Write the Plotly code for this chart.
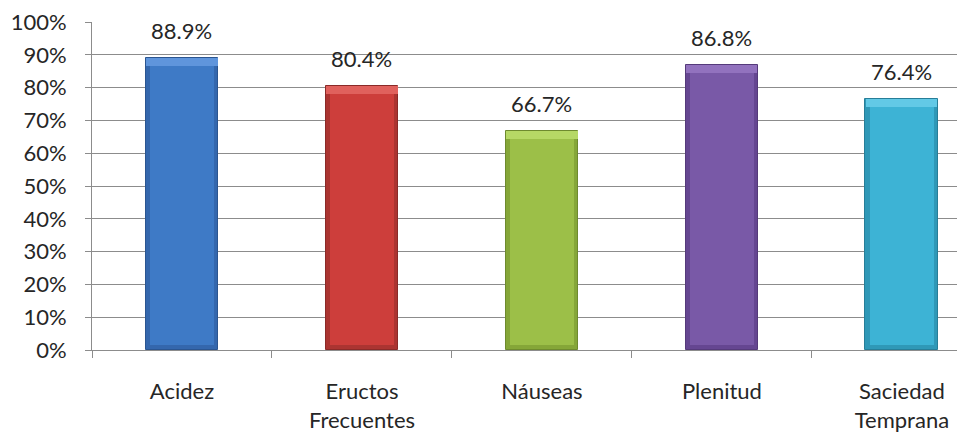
import plotly.graph_objects as go

# Symptom frequencies
categories = ["Acidez", "Eructos<br>Frecuentes", "Náuseas", "Plenitud", "Saciedad<br>Temprana"]
values = [88.9, 80.4, 66.7, 86.8, 76.4]
value_labels = ["88.9%", "80.4%", "66.7%", "86.8%", "76.4%"]
y_ticks = [0, 10, 20, 30, 40, 50, 60, 70, 80, 90, 100]
y_tick_labels = ["0%", "10%", "20%", "30%", "40%", "50%", "60%", "70%", "80%", "90%", "100%"]

# Per-bar palette: face, top highlight, side shade, outline
face = ["#3E7AC6", "#CD3E3B", "#9CBF48", "#7959A7", "#3DB3D5"]
highlight = ["#5F95DC", "#E0615D", "#B6D865", "#9272BE", "#62C9E6"]
side = ["#3467AD", "#AB3431", "#85A638", "#654691", "#2F98B7"]
outline = ["#2B5590", "#8A2A28", "#6E8A2E", "#553A7A", "#277E98"]

FONT = "Lato"
BAR_W = 0.405
INNER_W = 0.36
TOP_STRIP = 2.4
BOTTOM_STRIP = 1.5

fig = go.Figure()

# Body of each bar (side shade with outline)
fig.add_trace(go.Bar(
    x=categories, y=values, width=BAR_W,
    marker=dict(color=side, line=dict(color=outline, width=1)),
    hoverinfo="skip", showlegend=False,
))
# Lighter bevel strip at the top
fig.add_trace(go.Bar(
    x=categories, y=[TOP_STRIP] * len(values), base=[v - TOP_STRIP for v in values],
    width=BAR_W - 0.01,
    marker=dict(color=highlight, line=dict(width=0)),
    hoverinfo="skip", showlegend=False,
))
# Flat front face
fig.add_trace(go.Bar(
    x=categories, y=[v - TOP_STRIP - BOTTOM_STRIP for v in values], base=[BOTTOM_STRIP] * len(values),
    width=INNER_W,
    marker=dict(color=face, line=dict(width=0)),
    hoverinfo="skip", showlegend=False,
))

# Value labels above the bars
for c, v, t in zip(categories, values, value_labels):
    fig.add_annotation(
        x=c, y=v, text=t, showarrow=False, yanchor="bottom", yshift=12,
        font=dict(family=FONT, size=22, color="#262626"),
    )

fig.update_layout(
    width=957, height=435,
    margin=dict(l=92, r=0, t=22, b=85),
    paper_bgcolor="white", plot_bgcolor="white",
    barmode="overlay", bargap=0,
    font=dict(family=FONT, size=22, color="#262626"),
    showlegend=False,
)
fig.update_xaxes(
    type="category", range=[-0.5, 4.306],
    tickson="boundaries", ticks="outside", ticklen=7, tickcolor="#8c8c8c",
    showline=True, linecolor="#8c8c8c", linewidth=1,
    showgrid=False, ticklabelstandoff=22,
    tickfont=dict(family=FONT, size=22, color="#262626"),
)
fig.update_yaxes(
    range=[0, 100], tickvals=y_ticks, ticktext=y_tick_labels,
    ticks="outside", ticklen=6, tickcolor="#8c8c8c",
    showline=True, linecolor="#8c8c8c", linewidth=1,
    showgrid=True, gridcolor="#8c8c8c", gridwidth=1,
    zeroline=False, ticklabelstandoff=14,
    tickfont=dict(family=FONT, size=22, color="#262626"),
)

fig.write_html("out.html")
